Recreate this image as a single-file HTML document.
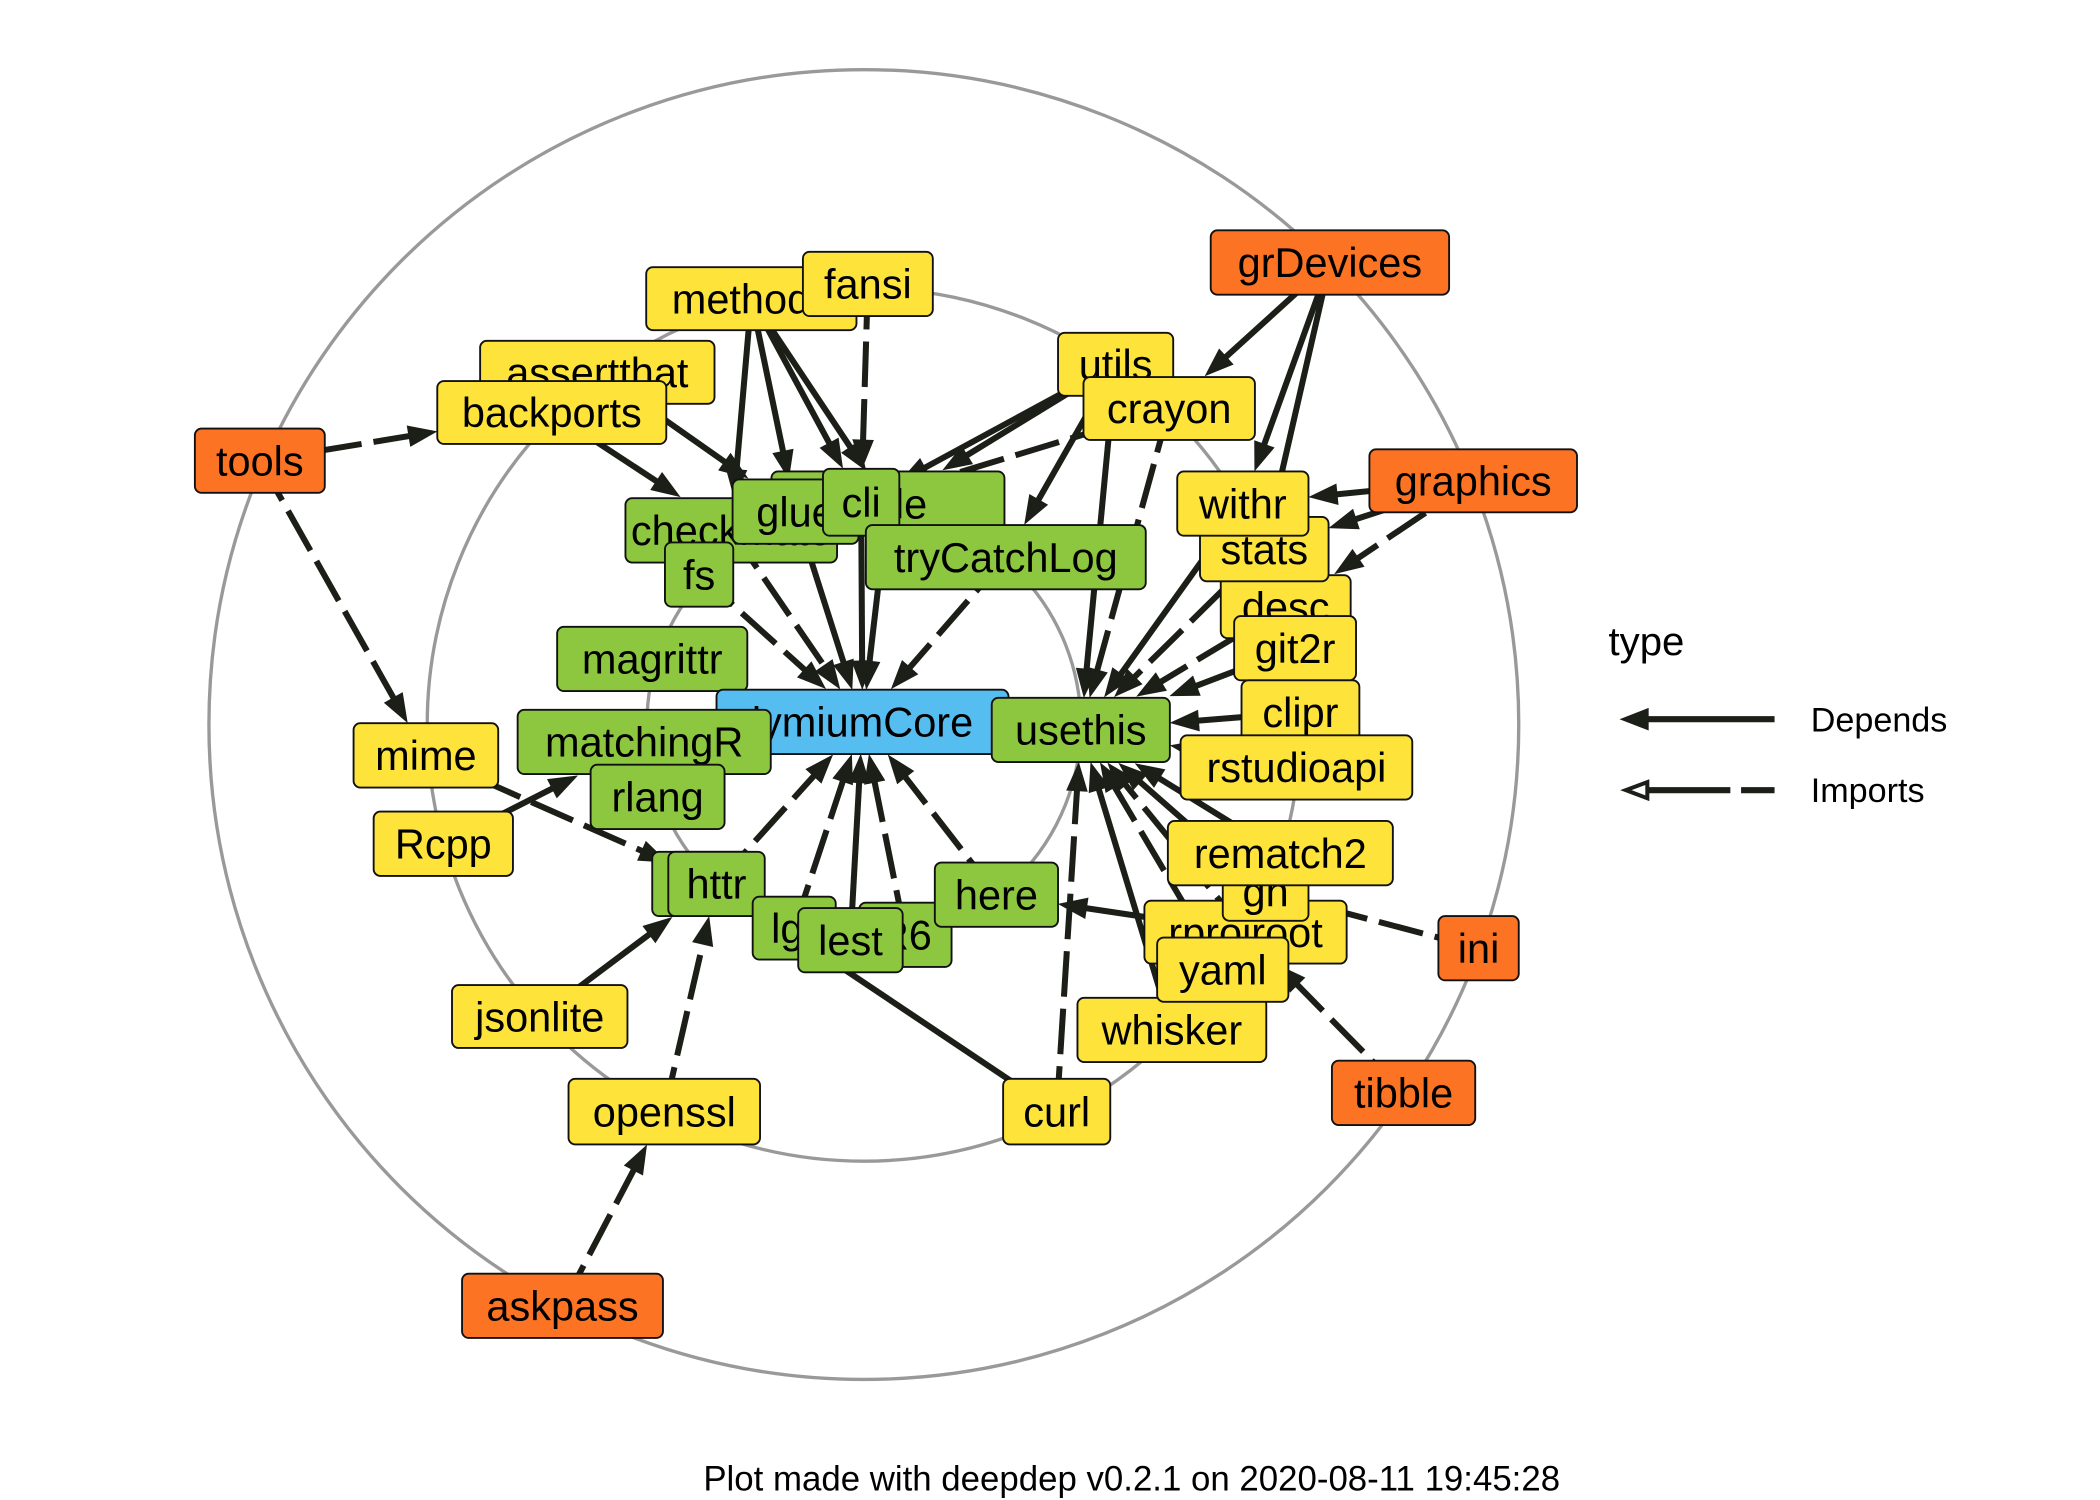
<!DOCTYPE html>
<html><head><meta charset="utf-8"><style>
html,body{margin:0;padding:0;background:#fff;}
svg{display:block;font-family:"Liberation Sans",Arial,sans-serif;}
</style></head><body>
<svg id="chart" width="2100" height="1500" viewBox="0 0 1568 1120" xmlns="http://www.w3.org/2000/svg">
<rect width="1568" height="1120" fill="#fff"/>
<g id="rings">
<circle cx="645" cy="541" r="489" fill="none" stroke="#999" stroke-width="2.5"/>
<circle cx="645" cy="541" r="326" fill="none" stroke="#999" stroke-width="2.5"/>
<circle cx="645" cy="541" r="162" fill="none" stroke="#999" stroke-width="2.5"/>
</g>
<g id="edges"></g>
<g id="nodes"></g>
<g id="legend">
<text x="1201" y="489" font-size="30">type</text>
<g>
<line x1="1228" y1="537" x2="1325" y2="537" stroke="#1b1f17" stroke-width="4.5"/>
<polygon points="1212,537 1230,530 1230,544" fill="#1b1f17" stroke="#1b1f17" stroke-width="2"/>
<text x="1352" y="546" font-size="25.5">Depends</text>
</g>
<g>
<line x1="1230" y1="590" x2="1325" y2="590" stroke="#1b1f17" stroke-width="4.5" stroke-dasharray="62,8,30"/>
<polygon points="1214,590 1230,584 1230,596" fill="#fff" stroke="#1b1f17" stroke-width="3"/>
<text x="1352" y="599" font-size="25.5">Imports</text>
</g>
</g>
<text x="845" y="1113" font-size="26" text-anchor="middle">Plot made with deepdep v0.2.1 on 2020-08-11 19:45:28</text>
</svg>
<script>
// node data: names, centers, box sizes, level type
const nodeNames = ["grDevices","methods","fansi","utils","assertthat","backports","crayon","tools","graphics","desc","stats","withr","git2r","clipr","rstudioapi","rprojroot","gh","rematch2","whisker","yaml","ini","tibble","curl","openssl","jsonlite","askpass","mime","Rcpp","checkmate","able","glue","cli","tryCatchLog","fs","magrittr","core","usethis","matchingR","rlang","httr2","httr","lgr","R6","lest","here"];
const nodeLabels = ["grDevices","methods","fansi","utils","assertthat","backports","crayon","tools","graphics","desc","stats","withr","git2r","clipr","rstudioapi","rprojroot","gh","rematch2","whisker","yaml","ini","tibble","curl","openssl","jsonlite","askpass","mime","Rcpp","checkmate","able","glue","cli","tryCatchLog","fs","magrittr","lymiumCore","usethis","matchingR","rlang","","httr","lgr","R6","lest","here"];
const nodeX = [993,561,648,833,446,412,873,194,1100,960,944,928,967,971,968,930,945,956,875,913,1104,1048,789,496,403,420,318,331,546,663,594,643,751,522,487,644,807,481,491,523,535,593,676,635,744];
const nodeY = [196,223,212,272,278,308,305,344,359,453,410,376,484,532,573,696,666,637,769,724,708,816,830,830,759,975,564,630,396,376,382,375,416,429,492,539,545,554,595,660,660,693,698,702,668];
const nodeW = [178,157,97,86,175,171,128,97,155,97,96,98,91,88,173,151,64,168,141,98,60,107,80,143,131,150,108,104,158,174,94,57,209,51,142,218,133,189,100,72,72,62,69,78,92];
const nodeH = [48,47,48,47,47,47,47,48,47,47,48,48,48,48,48,47,43,48,48,48,48,48,49,49,47,48,48,48,48,48,48,50,48,48,48,48,48,48,48,48,48,47,48,48,48];
const nodeType = ["O","Y","Y","Y","Y","Y","Y","O","O","Y","Y","Y","Y","Y","Y","Y","Y","Y","Y","Y","O","O","Y","Y","Y","O","Y","Y","G","G","G","G","G","G","G","B","G","G","G","G","G","G","G","G","G"];
// edge data: source, target, dashed (Imports) or solid (Depends)
const edgeFrom = ["methods","methods","methods","methods","fansi","utils","utils","utils","utils","crayon","crayon","grDevices","grDevices","grDevices","graphics","graphics","graphics","tools","tools","backports","assertthat","checkmate","glue","able","cli","tryCatchLog","fs","httr","lgr","lest","R6","here","withr","stats","desc","git2r","clipr","rstudioapi","rematch2","gh","rprojroot","yaml","whisker","curl","mime","Rcpp","jsonlite","openssl","askpass","curl","rprojroot","ini","tibble"];
const edgeTo = ["checkmate","glue","cli","able","cli","cli","able","tryCatchLog","usethis","cli","usethis","crayon","withr","stats","withr","stats","desc","backports","mime","checkmate","glue","core","core","core","core","core","core","core","core","core","core","core","usethis","usethis","usethis","usethis","usethis","usethis","usethis","usethis","usethis","usethis","usethis","usethis","httr","matchingR","httr","httr","openssl","httr","here","gh","rprojroot"];
const edgeDashed = [0,0,0,0,1,0,0,0,0,1,1,0,0,0,0,0,1,1,1,0,0,1,0,0,0,1,1,1,1,0,1,1,0,1,1,0,0,0,0,0,1,1,0,1,1,0,0,1,1,0,0,1,1];

const fills = {O:"#FD7324",Y:"#FDE33A",G:"#8DC63F",B:"#56BDF0"};
const NS = "http://www.w3.org/2000/svg";
const eg = document.getElementById("edges");
const ng = document.getElementById("nodes");
function idx(n){return nodeNames.indexOf(n);}

for (let k=0;k<edgeFrom.length;k++){
  const s=idx(edgeFrom[k]), t=idx(edgeTo[k]);
  const sx=nodeX[s], sy=nodeY[s], tx=nodeX[t], ty=nodeY[t];
  let dx=sx-tx, dy=sy-ty; const L=Math.hypot(dx,dy)||1; dx/=L; dy/=L;
  const hw=nodeW[t]/2+2, hh=nodeH[t]/2+2;
  const tt=Math.min(Math.abs(dx)>1e-6?hw/Math.abs(dx):1e9, Math.abs(dy)>1e-6?hh/Math.abs(dy):1e9);
  const ex=tx+dx*tt, ey=ty+dy*tt;
  const bx=ex+dx*17, by=ey+dy*17;
  const g=document.createElementNS(NS,"g");
  
  
  const ln=document.createElementNS(NS,"line");
  ln.setAttribute("x1",sx); ln.setAttribute("y1",sy);
  ln.setAttribute("x2",bx); ln.setAttribute("y2",by);
  ln.setAttribute("stroke","#1b1f17"); ln.setAttribute("stroke-width","4.5");
  if(edgeDashed[k]) ln.setAttribute("stroke-dasharray","34,9");
  g.appendChild(ln);
  const px=-dy, py=dx;
  const p=document.createElementNS(NS,"polygon");
  p.setAttribute("points",`${ex},${ey} ${ex+dx*19+px*7},${ey+dy*19+py*7} ${ex+dx*19-px*7},${ey+dy*19-py*7}`);
  p.setAttribute("fill","#1b1f17"); p.setAttribute("stroke","#1b1f17"); p.setAttribute("stroke-width","1.5");
  g.appendChild(p);
  eg.appendChild(g);
}

for (let i=0;i<nodeNames.length;i++){
  const g=document.createElementNS(NS,"g");
  
  
  const r=document.createElementNS(NS,"rect");
  r.setAttribute("x",nodeX[i]-nodeW[i]/2); r.setAttribute("y",nodeY[i]-nodeH[i]/2);
  r.setAttribute("width",nodeW[i]); r.setAttribute("height",nodeH[i]);
  r.setAttribute("rx",5); r.setAttribute("fill",fills[nodeType[i]]);
  r.setAttribute("stroke","#111"); r.setAttribute("stroke-width","1.4");
  g.appendChild(r);
  const tx=document.createElementNS(NS,"text");
  tx.setAttribute("x",nodeX[i]); tx.setAttribute("y",nodeY[i]+11);
  tx.setAttribute("font-size","31"); tx.setAttribute("text-anchor","middle");
  tx.setAttribute("fill","#000");
  tx.textContent=nodeLabels[i];
  g.appendChild(tx);
  ng.appendChild(g);
}
</script>
</body></html>
